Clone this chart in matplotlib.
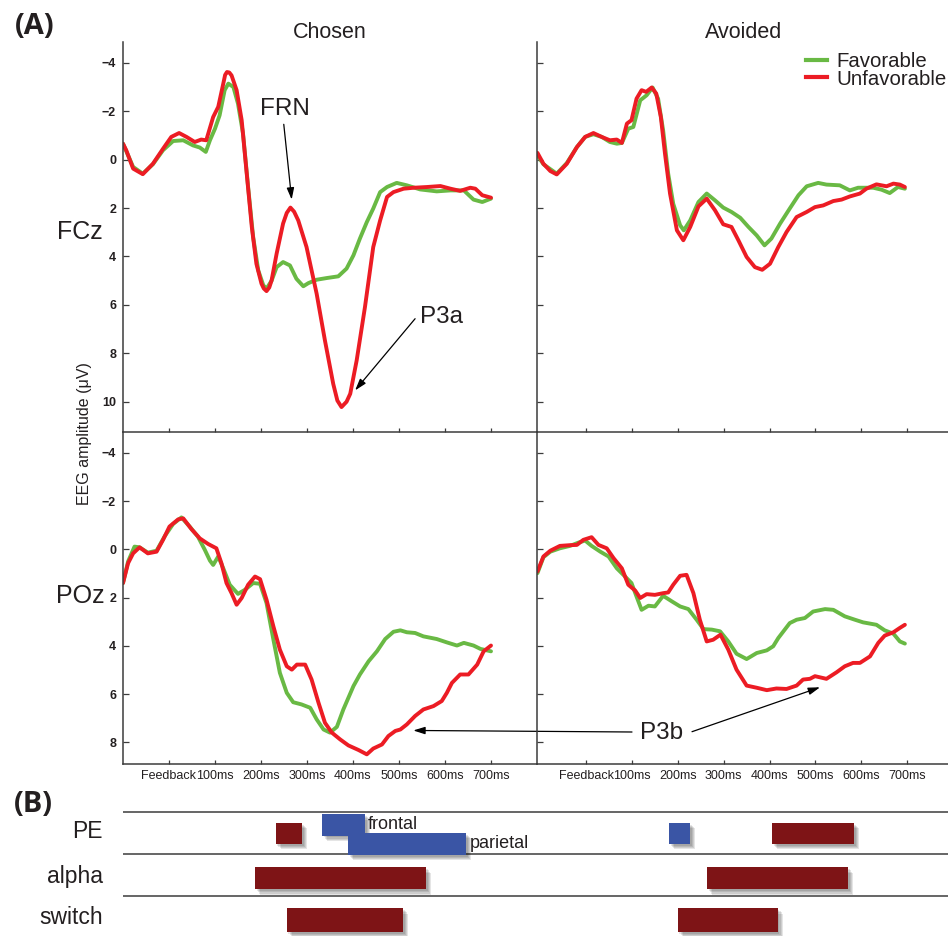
import matplotlib
matplotlib.use("Agg")
import matplotlib.pyplot as plt
from matplotlib import patheffects as pe
from matplotlib.lines import Line2D

plt.rcParams['font.family'] = ['Liberation Sans', 'DejaVu Sans']

# ---------------- data ----------------
# Chosen / FCz
tl_fav_t = [-100,-78,-57,-35,-13,9,31,52,67,80,89,100,110,121,129,140,150,161,172,183,194,205,212,223,234,248,263,277,292,303,321,343,368,386,401,415,430,444,459,474,495,517,546,582,612,641,662,681,700]
tl_fav_v = [-0.66,0.3,0.58,0.19,-0.39,-0.77,-0.8,-0.59,-0.5,-0.32,-0.8,-1.28,-1.83,-2.87,-3.14,-3.0,-2.31,-1.07,1.13,3.2,4.57,5.19,5.33,5.0,4.44,4.23,4.37,4.92,5.23,5.1,4.96,4.89,4.82,4.5,3.95,3.26,2.58,2.02,1.34,1.13,0.96,1.06,1.23,1.31,1.27,1.27,1.65,1.75,1.61]
tl_unf_t = [-100,-93,-78,-57,-35,-13,5,22,38,56,70,81,96,107,118,122,126,131,136,147,158,169,180,190,201,206,212,218,223,234,248,256,264,272,281,299,321,339,357,366,375,386,394,408,426,444,459,474,488,510,532,561,590,612,633,655,666,681,700]
tl_unf_v = [-0.66,-0.39,0.37,0.6,0.17,-0.45,-0.94,-1.1,-0.94,-0.73,-0.83,-0.8,-1.76,-2.18,-3.14,-3.5,-3.62,-3.6,-3.48,-2.87,-1.63,0.58,2.78,4.3,5.12,5.32,5.43,5.28,4.99,3.88,2.64,2.2,1.98,2.15,2.51,3.61,5.54,7.47,9.26,9.95,10.22,10.0,9.67,8.29,6.09,3.61,2.51,1.54,1.34,1.2,1.16,1.13,1.09,1.2,1.29,1.16,1.2,1.47,1.57]

# Avoided / FCz
tr_fav_t = [-106,-93,-64,-42,-20,-2,16,34,52,67,78,92,103,118,132,145,157,168,179,190,205,213,227,245,263,281,299,317,336,354,372,389,404,423,444,463,481,506,524,553,575,593,626,644,662,680,695]
tr_fav_v = [-0.18,0.19,0.58,0.14,-0.52,-0.94,-1.05,-0.94,-0.73,-0.66,-0.69,-1.28,-1.35,-2.45,-2.66,-2.98,-2.52,-1.21,0.58,1.82,2.71,2.92,2.51,1.75,1.4,1.68,1.98,2.16,2.4,2.78,3.13,3.54,3.26,2.64,2.02,1.47,1.1,0.96,1.03,1.06,1.27,1.16,1.16,1.24,1.38,1.13,1.2]
tr_unf_t = [-106,-93,-78,-64,-42,-20,-2,16,34,52,67,78,89,99,110,121,131,143,153,163,172,183,198,212,227,245,263,281,299,317,332,350,368,384,401,419,437,459,481,499,517,539,557,575,597,611,633,655,670,684,695]
tr_unf_v = [-0.28,0.17,0.47,0.61,0.17,-0.52,-0.94,-1.1,-0.94,-0.8,-0.83,-0.69,-1.49,-1.63,-2.52,-2.87,-2.8,-2.98,-2.73,-1.76,-0.25,1.4,2.92,3.33,2.78,1.93,1.61,2.09,2.67,2.78,3.33,4.02,4.44,4.55,4.3,3.61,2.99,2.37,2.16,1.96,1.89,1.71,1.65,1.52,1.4,1.2,1.02,1.1,0.99,1.03,1.13]

# Chosen / POz
bl_fav_t = [-100,-89,-75,-64,-46,-27,-9,9,27,45,63,78,89,96,107,118,132,150,165,183,198,212,227,241,256,270,288,307,321,336,350,365,379,401,415,434,452,470,488,503,517,535,553,582,604,626,641,662,677,700]
bl_fav_v = [1.4,0.51,-0.11,-0.08,0.14,0.06,-0.55,-1.05,-1.32,-0.94,-0.52,0.03,0.47,0.65,0.3,0.79,1.47,1.85,1.68,1.4,1.43,2.23,3.75,5.12,5.95,6.34,6.43,6.57,7.05,7.47,7.6,7.36,6.64,5.67,5.19,4.64,4.23,3.72,3.42,3.36,3.44,3.47,3.61,3.72,3.86,3.99,3.88,3.99,4.13,4.23]
bl_unf_t = [-100,-89,-78,-64,-46,-27,-13,1,20,31,49,67,85,103,114,125,136,147,158,172,187,198,212,227,241,256,267,278,296,310,325,339,354,372,390,412,430,444,463,477,492,503,517,535,553,575,593,604,615,633,651,670,684,700]
bl_unf_v = [1.4,0.58,0.17,-0.08,0.17,0.1,-0.39,-0.94,-1.24,-1.28,-0.83,-0.45,-0.22,-0.04,0.58,1.4,1.82,2.3,2.02,1.47,1.13,1.24,2.09,3.2,4.16,4.85,4.99,4.78,4.78,5.4,6.36,7.19,7.6,7.88,8.13,8.32,8.5,8.26,8.09,7.74,7.53,7.47,7.26,6.91,6.64,6.5,6.29,5.95,5.54,5.19,5.19,4.78,4.23,3.99]

# Avoided / POz
br_fav_t = [-106,-93,-78,-57,-35,-16,-2,12,31,49,67,85,99,110,121,136,150,168,187,205,223,241,256,274,292,310,328,350,372,394,408,419,444,459,477,495,521,539,564,586,604,633,651,670,684,695]
br_fav_v = [0.99,0.33,0.1,-0.04,-0.14,-0.28,-0.36,-0.14,0.1,0.3,0.79,1.13,1.4,1.96,2.51,2.34,2.37,1.93,2.16,2.37,2.48,2.92,3.31,3.33,3.4,3.82,4.33,4.55,4.3,4.19,4.02,3.68,3.06,2.92,2.85,2.58,2.48,2.51,2.78,2.92,3.03,3.13,3.36,3.5,3.82,3.91]
br_unf_t = [-106,-93,-78,-57,-35,-20,-6,12,27,45,60,78,92,107,118,132,150,168,179,190,205,219,234,248,263,277,293,310,328,350,372,394,415,437,459,473,488,499,524,546,564,582,597,619,637,651,670,684,695]
br_unf_v = [0.92,0.3,0.06,-0.14,-0.17,-0.18,-0.39,-0.5,-0.18,-0.04,0.37,0.79,1.47,1.71,2.02,1.86,1.89,1.82,1.79,1.47,1.1,1.06,1.82,2.92,3.82,3.75,3.54,4.16,4.99,5.65,5.74,5.84,5.77,5.79,5.65,5.4,5.37,5.26,5.37,5.1,4.85,4.71,4.71,4.44,3.88,3.58,3.44,3.26,3.13]

xtick_pos = [0, 100, 200, 300, 400, 500, 600, 700]
xtick_labels = ['Feedback', '100ms', '200ms', '300ms', '400ms', '500ms', '600ms', '700ms']
ytick_top = [-4, -2, 0, 2, 4, 6, 8, 10]
ytick_bot = [-4, -2, 0, 2, 4, 6, 8]
series_names = ['Favorable', 'Unfavorable']
col_titles = ['Chosen', 'Avoided']
row_names = ['FCz', 'POz']

# Panel B: significant windows (ms): (row, start, end, kind)
b_rows = ['PE', 'alpha', 'switch']
b_chosen = [('PE', 232, 289, 'red'), ('PE frontal', 333, 426, 'blue'),
            ('PE parietal', 389, 646, 'blue'), ('alpha', 187, 559, 'red'),
            ('switch', 256, 509, 'red')]
b_avoided = [('PE', 181, 227, 'blue'), ('PE', 405, 584, 'red'),
             ('alpha', 264, 571, 'red'), ('switch', 200, 418, 'red')]

# ---------------- style ----------------
W, H = 948, 936
GREEN = '#69b944'
RED = '#ec1c24'
SPINE = '#3c3c3c'
TXT = '#231f20'
BRED = '#7e1416'
BBLUE = '#3a55a5'

fig = plt.figure(figsize=(W / 100, H / 100), dpi=100)
fig.patch.set_facecolor('white')


def rect(x0, y0, x1, y1):
    return [x0 / W, 1 - y1 / H, (x1 - x0) / W, (y1 - y0) / H]


ax_tl = fig.add_axes(rect(123, 42, 537, 432))
ax_tr = fig.add_axes(rect(537, 42, 948, 432))
ax_bl = fig.add_axes(rect(123, 432, 537, 764))
ax_br = fig.add_axes(rect(537, 432, 948, 764))

LEFT_XLIM = (-100, 800)
RIGHT_XLIM = (-107, 789)

panels = [
    (ax_tl, tl_fav_t, tl_fav_v, tl_unf_t, tl_unf_v, LEFT_XLIM, (11.25, -4.86), ytick_top, True, False),
    (ax_tr, tr_fav_t, tr_fav_v, tr_unf_t, tr_unf_v, RIGHT_XLIM, (11.25, -4.86), ytick_top, False, False),
    (ax_bl, bl_fav_t, bl_fav_v, bl_unf_t, bl_unf_v, LEFT_XLIM, (8.9, -4.86), ytick_bot, True, True),
    (ax_br, br_fav_t, br_fav_v, br_unf_t, br_unf_v, RIGHT_XLIM, (8.9, -4.86), ytick_bot, False, True),
]

for ax, ft, fv, ut, uv, xl, yl, yt, ylab, xlab in panels:
    ax.set_facecolor('none')
    ax.plot(ft, fv, color=GREEN, lw=2.8, solid_joinstyle='round', solid_capstyle='round', label=series_names[0])
    ax.plot(ut, uv, color=RED, lw=2.8, solid_joinstyle='round', solid_capstyle='round', label=series_names[1])
    ax.set_xlim(*xl)
    ax.set_ylim(*yl)
    for s in ['top', 'right']:
        ax.spines[s].set_visible(False)
    for s in ['left', 'bottom']:
        ax.spines[s].set_color(SPINE)
        ax.spines[s].set_linewidth(1.1)
    ax.set_yticks(yt)
    ax.set_xticks(xtick_pos)
    ax.tick_params(axis='y', direction='in', length=4, width=0.9, color=SPINE, pad=5)
    ax.tick_params(axis='x', direction='in', length=3, width=0.9, color=SPINE, pad=4)
    if ylab:
        ax.set_yticklabels([str(v).replace('-', '\u2212') for v in yt],
                           fontsize=9, fontweight='bold', color=TXT)
    else:
        ax.set_yticklabels([])
    if xlab:
        ax.set_xticklabels(xtick_labels, fontsize=9, color=TXT)
    else:
        ax.set_xticklabels([])

# titles and row labels
fig.text(330 / W, 1 - 33 / H, col_titles[0], fontsize=15.5, color=TXT, ha='center', va='center')
fig.text(744 / W, 1 - 33 / H, col_titles[1], fontsize=15.5, color=TXT, ha='center', va='center')
fig.text(80 / W, 1 - 232 / H, row_names[0], fontsize=18, color=TXT, ha='center', va='center')
fig.text(80 / W, 1 - 596 / H, row_names[1], fontsize=18, color=TXT, ha='center', va='center')
fig.text(85 / W, 1 - 434 / H, 'EEG amplitude (\u03bcV)', fontsize=11.5, color=TXT,
         rotation=90, ha='center', va='center')
fig.text(35 / W, 1 - 27 / H, '(A)', fontsize=21, fontweight='bold', color=TXT,
         ha='center', va='center', family=['Open Sans', 'DejaVu Sans'])
fig.text(33 / W, 1 - 804 / H, '(B)', fontsize=21, fontweight='bold', color=TXT,
         ha='center', va='center', family=['Open Sans', 'DejaVu Sans'])

# legend (manual, tight spacing)
for i, (name, c) in enumerate(zip(series_names, [GREEN, RED])):
    yy = 1 - (59.7 + 17.6 * i) / H
    fig.add_artist(Line2D([806 / W, 827 / W], [yy, yy], color=c, lw=3.0, transform=fig.transFigure))
    fig.text(836 / W, yy, name, fontsize=14.7, color=TXT, ha='left', va='center_baseline')

# annotations
arrow = dict(arrowstyle='-|>,head_length=0.7,head_width=0.22', color='black', lw=0.9,
             shrinkA=0, shrinkB=0)
ax_tl.text(251, -2.08, 'FRN', fontsize=17.5, color=TXT, ha='center', va='center')
ax_tl.annotate('', xy=(266.7, 1.65), xytext=(249.5, -1.46), arrowprops=arrow)
ax_tl.text(592, 6.48, 'P3a', fontsize=17.5, color=TXT, ha='center', va='center')
ax_tl.annotate('', xy=(404.6, 9.53), xytext=(535, 6.57), arrowprops=arrow)
fig.text(661.7 / W, 1 - 733 / H, 'P3b', fontsize=17.5, color=TXT, ha='center', va='center')
ax_bl.annotate('', xy=(531, 7.51), xycoords='data', xytext=(632, H - 732),
               textcoords='figure pixels', arrowprops=arrow, annotation_clip=False)
ax_br.annotate('', xy=(510, 5.72), xycoords='data', xytext=(692, H - 731.7),
               textcoords='figure pixels', arrowprops=arrow, annotation_clip=False)

# ---------------- panel B ----------------
bax_l = fig.add_axes(rect(123, 790, 537, 936))
bax_r = fig.add_axes(rect(537, 790, 948, 936))
row_center = {'PE': 0.51, 'PE frontal': 0.31, 'PE parietal': 0.76, 'alpha': 1.58, 'switch': 2.57}
row_height = {'PE': 0.5, 'PE frontal': 0.51, 'PE parietal': 0.52, 'alpha': 0.52, 'switch': 0.57}
kind_color = {'red': BRED, 'blue': BBLUE}
shadow = [pe.SimplePatchShadow(offset=(o, -o * 1.1), shadow_rgbFace='black', alpha=0.1)
          for o in (1.2, 2.0, 2.8, 3.6)] + [pe.Normal()]

for bax, bars, xl in [(bax_l, b_chosen, LEFT_XLIM), (bax_r, b_avoided, RIGHT_XLIM)]:
    bax.set_facecolor('none')
    bax.set_xlim(*xl)
    bax.set_ylim(2.95, -0.52)
    bax.axis('off')
    for yline in [0, 1, 2]:
        bax.axhline(yline, color=SPINE, lw=1.1, zorder=1)
    for row, s, e, kind in bars:
        b = bax.barh(row_center[row], e - s, left=s, height=row_height[row],
                     color=kind_color[kind], zorder=3)
        for p in b:
            p.set_path_effects(shadow)

bax_l.text(431, 0.31, 'frontal', fontsize=13, color=TXT, ha='left', va='center')
bax_l.text(654, 0.76, 'parietal', fontsize=13, color=TXT, ha='left', va='center')
for name, yy in zip(b_rows, [832, 877, 918]):
    fig.text(103 / W, 1 - yy / H, name, fontsize=16.5, color=TXT, ha='right', va='center')

fig.savefig('out.png', dpi=100, facecolor='white')
